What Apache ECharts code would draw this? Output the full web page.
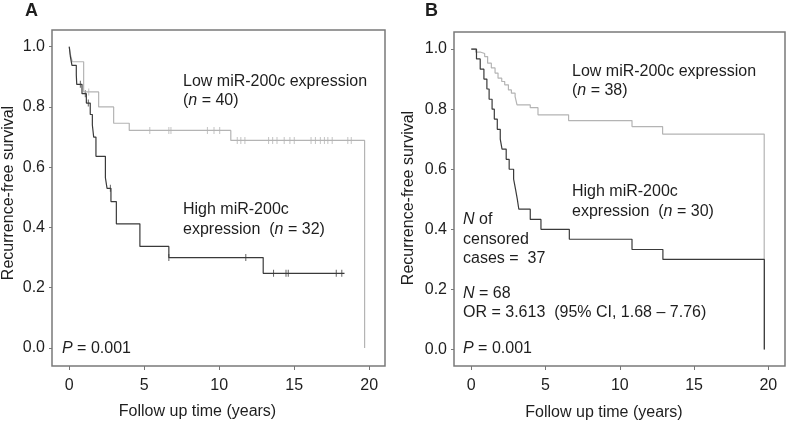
<!DOCTYPE html>
<html><head><meta charset="utf-8">
<script src="https://cdn.jsdelivr.net/npm/echarts@6/dist/echarts.min.js"></script>
<style>html,body{margin:0;padding:0;background:#fff}#c{width:790px;height:425px}</style>
</head><body><div id="c"></div>
<script>
// ---- tick labels ----
const xTicks = [0, 5, 10, 15, 20];
const yTicks = [0, 0.2, 0.4, 0.6, 0.8, 1.0];

// ---- Panel A: step points [time, survival] ----
const aLowSteps = [[0,1.0],[0.07,0.975],[0.2,0.95],[0.96,0.85],[1.96,0.80],[2.96,0.746],[4.0,0.722],[10.77,0.689],[19.69,0.689],[19.69,0]];
const aHighSteps = [[0,1.0],[0.07,0.969],[0.18,0.938],[0.47,0.906],[0.5,0.875],[0.85,0.844],[1.14,0.813],[1.4,0.775],[1.54,0.74],[1.63,0.70],[1.78,0.636],[2.41,0.565],[2.52,0.53],[2.78,0.486],[3.14,0.412],[4.71,0.337],[6.64,0.30],[12.93,0.248],[18.35,0.248]];
// censored marks
const aLowCensor = [[1.3,0.85],[5.37,0.722],[6.64,0.722],[6.78,0.722],[9.21,0.722],[9.65,0.722],[10.03,0.722],
  [11.2,0.689],[11.44,0.689],[11.71,0.689],[13.29,0.689],[13.56,0.689],[13.85,0.689],[14.33,0.689],[14.71,0.689],[15.0,0.689],
  [16.12,0.689],[16.41,0.689],[16.74,0.689],[17.01,0.689],[17.24,0.689],[17.53,0.689],[18.57,0.689],[18.8,0.689]];
const aHighCensor = [[0.74,0.875],[1.07,0.844],[1.27,0.813],[2.74,0.53],[6.64,0.30],[11.77,0.30],[13.62,0.248],[14.45,0.248],[14.6,0.248],[17.8,0.248],[18.17,0.248]];

// ---- Panel B: step points [time, survival] ----
const bLowSteps = [[0,1.0],[0.3,0.99],[0.6,0.985],[0.9,0.975],[1.1,0.953],[1.35,0.937],[1.6,0.92],[1.8,0.903],[2.05,0.892],[2.25,0.881],[2.5,0.864],[2.7,0.853],[2.95,0.842],[3.08,0.814],[3.97,0.805],[4.49,0.781],[6.55,0.762],[10.82,0.742],[12.88,0.717],[19.72,0.717],[19.72,0]];
const bHighSteps = [[0,1.0],[0.35,0.967],[0.6,0.933],[0.85,0.9],[1.05,0.867],[1.2,0.833],[1.4,0.8],[1.55,0.767],[1.75,0.733],[1.95,0.7],[2.07,0.667],[2.35,0.633],[2.55,0.6],[2.85,0.567],[2.98,0.533],[3.1,0.5],[3.2,0.467],[3.97,0.433],[4.69,0.4],[6.6,0.367],[10.82,0.333],[12.9,0.30],[19.73,0.30],[19.73,0]];

const FONT = 'Liberation Sans, Arial, Helvetica, sans-serif';
const TXT = '#1e1e1e';
const DARK = '#3a3a3a';
const LIGHT = '#b4b4b4';

const chart = echarts.init(document.getElementById('c'), null, {renderer:'canvas'});

function xAx(gi, min, max){
  return {gridIndex:gi, type:'value', min:min, max:max,
    axisLine:{show:false, onZero:false}, splitLine:{show:false},
    axisTick:{show:true, customValues:xTicks, length:4, lineStyle:{color:'#777', width:1}},
    axisLabel:{customValues:xTicks, margin:12, fontSize:16, color:TXT, fontFamily:FONT}};
}
function yAx(gi, min, max){
  return {gridIndex:gi, type:'value', min:min, max:max,
    axisLine:{show:false, onZero:false}, splitLine:{show:false},
    axisTick:{show:true, customValues:yTicks, length:3, lineStyle:{color:'#777', width:1}},
    axisLabel:{customValues:yTicks, margin:7, fontSize:16, color:TXT, fontFamily:FONT,
      formatter:v=>v.toFixed(1)}};
}
function stepSeries(gi, data, color){
  return {type:'line', xAxisIndex:gi, yAxisIndex:gi, data:data, step:'end', showSymbol:false,
    lineStyle:{color:color, width:1.2}, silent:true, animation:false};
}
function censorSeries(gi, data, color){
  return {type:'scatter', xAxisIndex:gi, yAxisIndex:gi, data:data, symbol:'rect', symbolSize:[1,7],
    itemStyle:{color:color}, silent:true, animation:false};
}
function t(x, y, text, opts){
  opts = opts || {};
  return {type:'text', x:x, y:y, rotation:opts.rot||0, silent:true,
    style:{text:text, fill:TXT, font:(opts.bold?'bold ':'')+(opts.size||16)+'px '+FONT,
      align:opts.align||'left', verticalAlign:'middle',
      rich:{i:{fontStyle:'italic', fontSize:opts.size||16, fontFamily:FONT, fill:TXT}, r:{fontSize:opts.size||16, fontFamily:FONT, fill:TXT}}}};
}

chart.setOption({
  animation:false,
  backgroundColor:'#fff',
  grid:[
    {left:52, top:30, width:333, height:336, show:true, borderColor:'#7a7a7a', borderWidth:1.5, containLabel:false},
    {left:454, top:32, width:331, height:334, show:true, borderColor:'#7a7a7a', borderWidth:1.5, containLabel:false}
  ],
  xAxis:[xAx(0,-1.15,21.05), xAx(1,-1.164,21.12)],
  yAxis:[yAx(0,-0.0597,1.0554), yAx(1,-0.0547,1.0567)],
  series:[
    stepSeries(0, aLowSteps, LIGHT),
    censorSeries(0, aLowCensor, LIGHT),
    stepSeries(0, aHighSteps, DARK),
    censorSeries(0, aHighCensor, DARK),
    stepSeries(1, bLowSteps, LIGHT),
    stepSeries(1, bHighSteps, DARK)
  ],
  graphic:[
    t(25, 11, 'A', {bold:true, size:18}),
    t(425, 11, 'B', {bold:true, size:18}),
    t(9, 193, 'Recurrence-free survival', {rot:Math.PI/2, align:'center'}),
    t(409, 198, 'Recurrence-free survival', {rot:Math.PI/2, align:'center'}),
    t(197.5, 412, 'Follow up time (years)', {align:'center'}),
    t(604, 413, 'Follow up time (years)', {align:'center'}),
    t(183, 82, 'Low miR-200c expression'),
    t(183, 101, '{r|(}{i|n}{r| = 40)}'),
    t(183, 210, 'High miR-200c'),
    t(183, 230, '{r|expression  (}{i|n}{r| = 32)}'),
    t(62, 349, '{i|P}{r| = 0.001}'),
    t(572, 72, 'Low miR-200c expression'),
    t(572, 91, '{r|(}{i|n}{r| = 38)}'),
    t(572, 192, 'High miR-200c'),
    t(572, 212, '{r|expression  (}{i|n}{r| = 30)}'),
    t(463, 220, '{i|N}{r| of}'),
    t(463, 240, 'censored'),
    t(463, 259, 'cases =  37'),
    t(463, 294, '{i|N}{r| = 68}'),
    t(463, 313, 'OR = 3.613  (95% CI, 1.68 \u2013 7.76)'),
    t(463, 349, '{i|P}{r| = 0.001}')
  ]
});
</script></body></html>
